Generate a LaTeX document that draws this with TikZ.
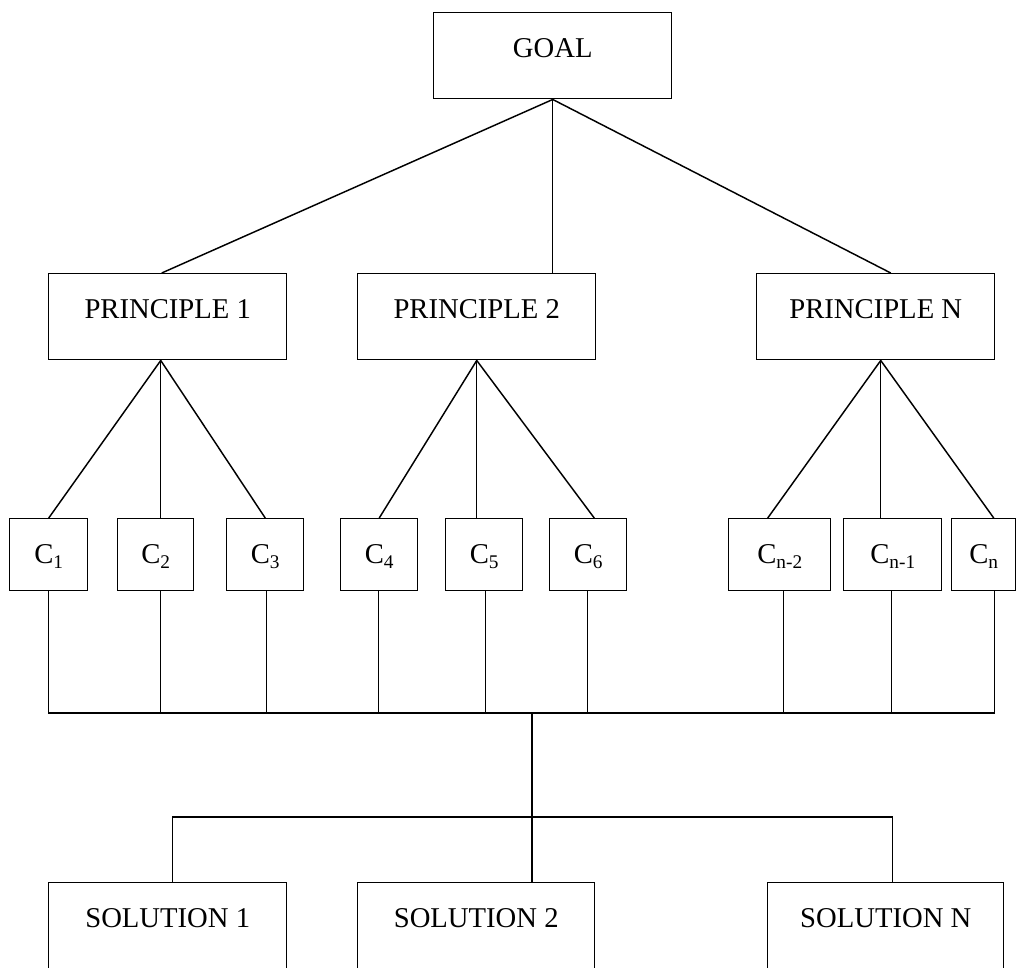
\documentclass[tikz,border=0pt]{standalone}
\usepackage{fontspec}
\setmainfont{Liberation Serif}
\usepackage{tikz}
\usetikzlibrary{positioning,calc}

\newcommand{\csub}[1]{C\raisebox{-3.5pt}{\fontsize{14.5}{15}\selectfont #1}}

\tikzset{
  box/.style={draw, line width=1.1pt, inner xsep=0pt, inner ysep=0pt, anchor=north west,
    text height=33.75pt, font=\fontsize{21.5}{24}\selectfont},
  bigbox/.style={box, text depth=30.75pt},
  cbox/.style={box, text depth=20.25pt},
  link/.style={line width=1.1pt}
}

\begin{document}
\begin{tikzpicture}[x=0.75pt, y=-0.75pt]
\useasboundingbox (0,0) rectangle (1016,967);
\clip (0,0) rectangle (1016,967);
% goal and principles
\node[bigbox, minimum width=178.5pt] (goal) at (433,12) {GOAL};
\node[bigbox, minimum width=178.5pt] (p1) at (48,273) {PRINCIPLE 1};
\node[bigbox, minimum width=178.5pt] (p2) at (357,273) {PRINCIPLE 2};
\node[bigbox, minimum width=178.5pt] (pn) at (756,273) {PRINCIPLE N};
\draw[link] (goal.south) -- ($(p1.north)+(-6,0)$);
\draw[link] (goal.south) -- (goal.south |- p2.north);
\draw[link] (goal.south) -- ($(pn.north)+(15,0)$);
% criteria
\node[cbox, minimum width=58.5pt] (c1) at (9,518) {\csub{1}};
\node[cbox, minimum width=57pt] (c2) at (117,518) {\csub{2}};
\node[cbox, minimum width=57.75pt] (c3) at (226,518) {\csub{3}};
\node[cbox, minimum width=57.75pt] (c4) at (340,518) {\csub{4}};
\node[cbox, minimum width=57.75pt] (c5) at (445,518) {\csub{5}};
\node[cbox, minimum width=57.75pt] (c6) at (549,518) {\csub{6}};
\node[cbox, minimum width=76.5pt] (cn2) at (728,518) {\csub{n-2}};
\node[cbox, minimum width=73.5pt] (cn1) at (843,518) {\csub{n-1}};
\node[cbox, minimum width=48pt] (cn) at (951,518) {\csub{n}};
\coordinate (a1) at ($(p1.south)+(-7,0)$);
\coordinate (an) at ($(pn.south)+(5,0)$);
\draw[link] (a1) -- (c1.north);
\draw[link] (a1) -- (a1 |- c2.north);
\draw[link] (a1) -- (c3.north);
\draw[link] (p2.south) -- (c4.north);
\draw[link] (p2.south) -- (p2.south |- c5.north);
\draw[link] (p2.south) -- ($(c6.north)+(6,0)$);
\draw[link] (an) -- ($(cn2.north)+(-12,0)$);
\draw[link] (an) -- (an |- cn1.north);
\draw[link] (an) -- ($(cn.north)+(10,0)$);
% bus
\foreach \c/\dx in {c1/0,c2/5,c3/1,c4/-1,c5/1,c6/-1,cn2/4,cn1/-1,cn/11}
  \draw[link] ($(\c.south)+(\dx,0)$) -- ++(0,123);
\coordinate (busl) at (48,713);
\coordinate (busr) at (994,713);
\coordinate (trunk) at (532,713);
\draw[link] (busl) -- (busr);
% solutions
\node[bigbox, minimum width=178.5pt] (s1) at (48,882) {SOLUTION 1};
\node[bigbox, minimum width=177.75pt] (s2) at (357,882) {SOLUTION 2};
\node[bigbox, minimum width=177pt] (sn) at (767,882) {SOLUTION N};
\draw[link] (trunk) -- (trunk |- s2.north);
\draw[link] ($(s1.north)+(5,0)$) -- ++(0,-65) -| ($(sn.north)+(7,0)$);
\end{tikzpicture}
\end{document}
